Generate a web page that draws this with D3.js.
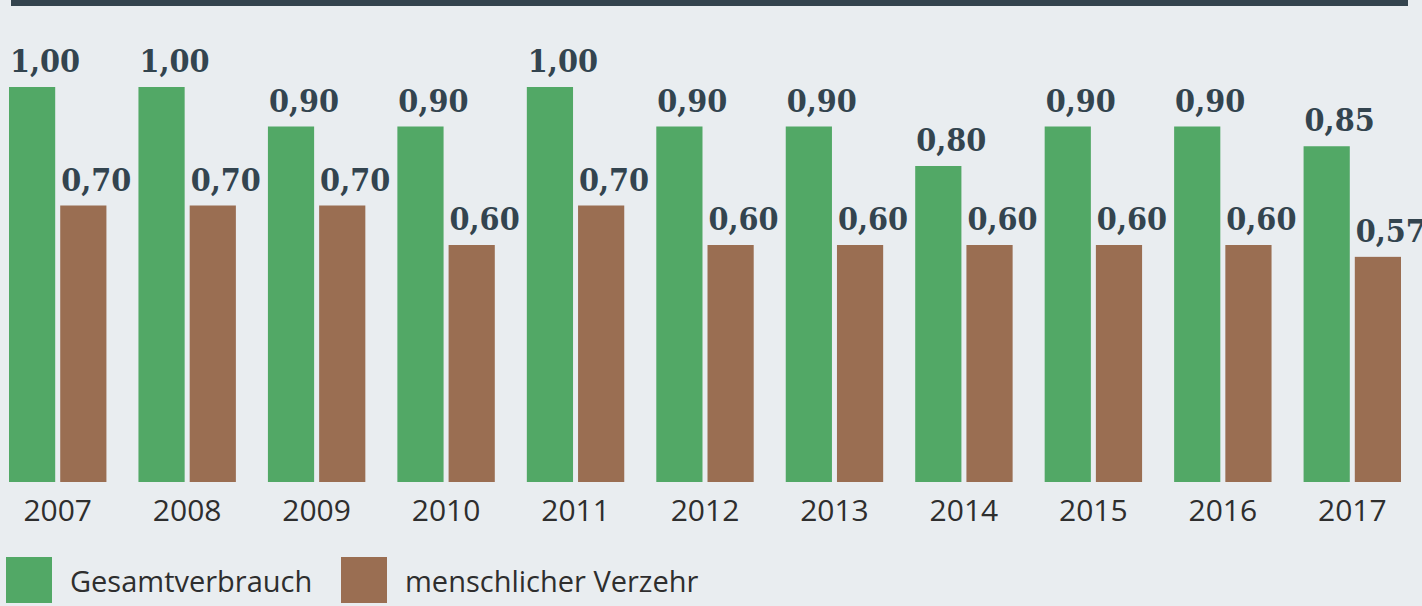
<!DOCTYPE html>
<html>
<head>
<meta charset="utf-8">
<script src="https://cdn.jsdelivr.net/npm/d3@7"></script>
<style>
  html, body { margin: 0; padding: 0; background: #e9edf0; }
  svg { display: block; }
</style>
</head>
<body>
<div id="chart"></div>
<script>
// values
const years = ["2007", "2008", "2009", "2010", "2011", "2012", "2013", "2014", "2015", "2016", "2017"];
const gesamt = [1.00, 1.00, 0.90, 0.90, 1.00, 0.90, 0.90, 0.80, 0.90, 0.90, 0.85];
const verzehr = [0.70, 0.70, 0.70, 0.60, 0.70, 0.60, 0.60, 0.60, 0.60, 0.60, 0.57];
const seriesNames = ["Gesamtverbrauch", "menschlicher Verzehr"];
const colors = ["#52a866", "#9a6e52"];

const width = 1422, height = 606;
const baseY = 482;

const svg = d3.select("#chart").append("svg")
    .attr("width", width)
    .attr("height", height);

svg.append("rect").attr("width", width).attr("height", height).attr("fill", "#e9edf0");

// dark rule on top
svg.append("rect")
    .attr("x", 11).attr("y", 0)
    .attr("width", 1397).attr("height", 6)
    .attr("fill", "#34444e");

const x = d3.scaleBand().domain(years).range([9, 1401]).paddingInner(0.2475).paddingOuter(0);
const xSub = d3.scaleBand().domain([0, 1]).range([0, x.bandwidth()]).paddingInner(0.098);
const y = d3.scaleLinear().domain([0, 1]).range([baseY, 87]);

const rows = years.map((yr, i) => ({ year: yr, vals: [gesamt[i], verzehr[i]] }));
const fmt = v => d3.format(".2f")(v).replace(".", ",");

const groups = svg.selectAll("g.year")
    .data(rows)
    .enter().append("g")
    .attr("class", "year")
    .attr("transform", d => `translate(${x(d.year)},0)`);

groups.selectAll("rect")
    .data(d => d.vals.map((v, k) => ({ v, k })))
    .enter().append("rect")
    .attr("x", d => xSub(d.k))
    .attr("y", d => y(d.v))
    .attr("width", xSub.bandwidth())
    .attr("height", d => baseY - y(d.v))
    .attr("fill", d => colors[d.k]);

// value labels (the last one runs off the right edge, as in the original)
groups.selectAll("text.val")
    .data(d => d.vals.map((v, k) => ({ v, k })))
    .enter().append("text")
    .attr("class", "val")
    .attr("x", d => xSub(d.k) + 1)
    .attr("y", d => y(d.v) - 15)
    .attr("font-family", "'DejaVu Serif Condensed', 'DejaVu Serif', serif")
    .attr("font-stretch", "condensed")
    .attr("font-weight", "bold")
    .attr("font-size", "32px")
    .attr("fill", "#33444f")
    .text(d => fmt(d.v));

// x axis labels
const xAxis = d3.axisBottom(x).tickSize(0).tickPadding(0);
const gx = svg.append("g")
    .attr("transform", `translate(0,${baseY})`)
    .call(xAxis);
gx.select(".domain").remove();
gx.selectAll("text")
    .attr("dy", 0)
    .attr("y", 39)
    .attr("font-family", "'Open Sans', sans-serif")
    .attr("font-size", "30px")
    .attr("fill", "#2e2e2e");

// legend
const legendX = [6, 341];
const legend = svg.selectAll("g.legend")
    .data(seriesNames)
    .enter().append("g")
    .attr("class", "legend")
    .attr("transform", (d, i) => `translate(${legendX[i]},557)`);

legend.append("rect")
    .attr("width", 46).attr("height", 46)
    .attr("fill", (d, i) => colors[i]);

legend.append("text")
    .attr("x", 64)
    .attr("y", 35)
    .attr("font-family", "'Open Sans', sans-serif")
    .attr("font-size", "29px")
    .attr("fill", "#2e2e2e")
    .text(d => d);
</script>
</body>
</html>
